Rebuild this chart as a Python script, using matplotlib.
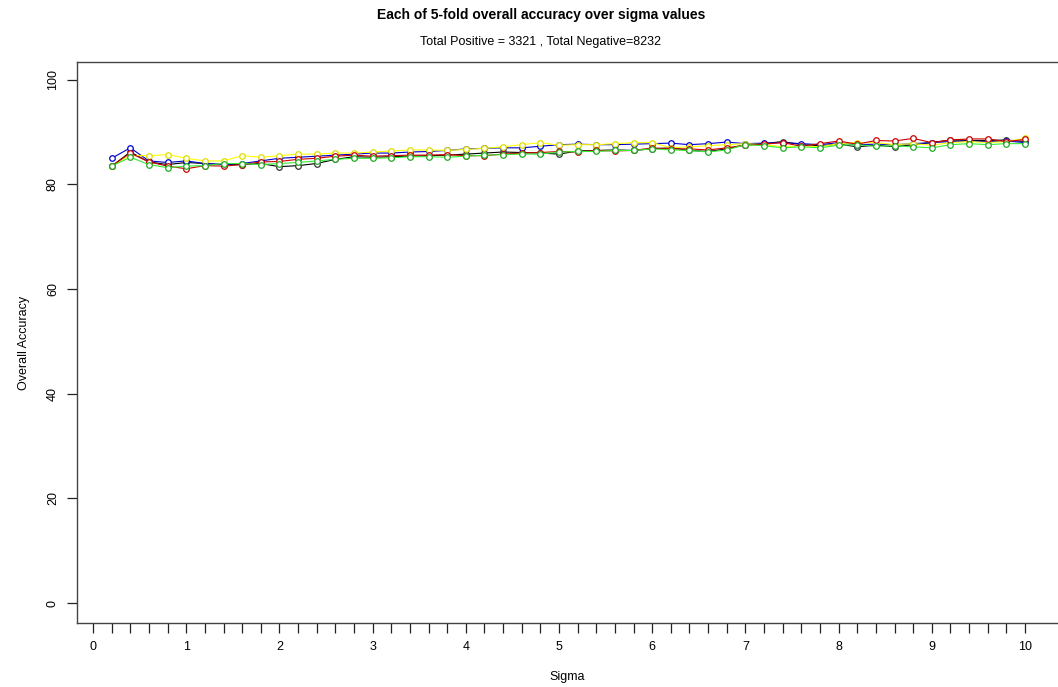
import numpy as np
import matplotlib
matplotlib.use("Agg")
import matplotlib.pyplot as plt
from matplotlib.ticker import FixedLocator, FuncFormatter

plt.rcParams['font.family'] = ['Liberation Sans', 'DejaVu Sans']

sigma = np.round(np.arange(0.2, 10.0001, 0.2), 1)

acc_black = [83.5, 86.2, 84.3, 83.8, 84.2, 84.0, 83.8, 83.8, 84.0, 83.4,
             83.6, 84.0, 84.8, 85.3, 85.2, 85.3, 85.4, 85.5, 85.6, 85.8,
             86.0, 86.2, 86.1, 86.0, 85.8, 86.4, 86.5, 86.6, 86.5, 86.8,
             87.0, 86.5, 86.3, 86.8, 87.6, 87.8, 88.2, 87.6, 87.4, 87.7,
             87.2, 87.5, 87.2, 87.6, 88.0, 88.5, 88.4, 88.4, 88.5, 88.2]
acc_blue = [85.0, 87.0, 84.5, 84.2, 84.5, 84.0, 83.8, 84.0, 84.5, 85.0,
            85.2, 85.4, 85.6, 85.8, 86.0, 86.0, 86.2, 86.3, 86.5, 86.8,
            86.9, 87.0, 87.0, 87.3, 87.6, 87.7, 87.6, 87.6, 87.7, 87.8,
            87.9, 87.6, 87.8, 88.1, 87.8, 87.9, 88.0, 87.8, 87.6, 88.0,
            87.6, 87.7, 87.6, 87.8, 88.0, 88.2, 88.3, 88.2, 88.3, 88.0]
acc_yellow = [83.5, 85.5, 85.5, 85.7, 85.0, 84.5, 84.5, 85.5, 85.2, 85.5,
              85.8, 85.8, 86.0, 86.0, 86.2, 86.4, 86.6, 86.6, 86.5, 86.7,
              86.9, 87.2, 87.6, 88.0, 87.5, 87.6, 87.6, 87.8, 88.0, 88.0,
              87.0, 87.2, 87.4, 87.6, 87.8, 87.6, 87.2, 87.4, 87.2, 87.8,
              88.0, 88.0, 87.6, 87.8, 87.5, 88.0, 88.2, 88.0, 88.2, 88.8]
acc_red = [83.5, 86.0, 84.3, 83.5, 83.0, 83.6, 83.5, 83.8, 84.3, 84.4,
           84.8, 85.0, 85.4, 85.6, 85.4, 85.5, 85.6, 85.6, 85.7, 85.5,
           85.5, 85.8, 86.0, 86.1, 86.3, 86.2, 86.5, 86.4, 86.5, 87.0,
           86.8, 86.8, 86.6, 87.0, 87.5, 87.7, 88.0, 87.3, 87.8, 88.3,
           87.7, 88.4, 88.3, 88.8, 88.0, 88.5, 88.7, 88.7, 88.2, 88.6]
acc_green = [83.5, 85.2, 83.8, 83.2, 83.5, 83.6, 84.0, 84.0, 83.8, 84.0,
             84.2, 84.5, 84.8, 85.0, 85.0, 85.1, 85.3, 85.3, 85.2, 85.4,
             85.6, 85.7, 85.8, 85.8, 86.2, 86.3, 86.3, 86.5, 86.5, 86.8,
             86.6, 86.5, 86.2, 86.6, 87.6, 87.4, 87.0, 87.2, 87.0, 87.5,
             87.6, 87.3, 87.4, 87.2, 87.0, 87.6, 87.8, 87.6, 87.8, 87.8]

series = [
    (acc_black, '#000000', '#333333'),
    (acc_blue, '#0000cc', '#0000cc'),
    (acc_yellow, '#ffff00', '#dddd00'),
    (acc_red, '#cc0000', '#cc0000'),
    (acc_green, '#33ee33', '#22aa22'),
]

W, H = 1058, 687
fig = plt.figure(figsize=(W / 100, H / 100), dpi=100)
x0, x1, ytop, ybot = 77, 1058, 62, 623
ax = fig.add_axes([x0 / W, 1 - ybot / H, (x1 - x0) / W, (ybot - ytop) / H])

for vals, lc, mc in series:
    ax.plot(sigma, vals, color=lc, lw=0.8, marker='o', ms=4.0,
            mfc='white', mec=mc, mew=0.9)

ax.set_xlim(-0.172, 10.354)
ax.set_ylim(-3.8, 103.4)

xt = np.round(np.arange(0, 10.0001, 0.2), 1)
ax.xaxis.set_major_locator(FixedLocator(xt))
ax.xaxis.set_major_formatter(FuncFormatter(
    lambda v, p: f"{int(round(v))}" if abs(v - round(v)) < 1e-6 else ""))
ax.set_yticks([0, 20, 40, 60, 80, 100])
for lbl in ax.get_yticklabels():
    lbl.set_rotation(90)
    lbl.set_va('center')

ax.tick_params(axis='both', length=7, width=0.9, color='#222222',
               labelsize=9, pad=6)
ax.spines['right'].set_visible(False)
for s in ('left', 'bottom', 'top'):
    ax.spines[s].set_linewidth(1.0)
    ax.spines[s].set_color('#444444')

ax.set_xlabel('Sigma', fontsize=9, labelpad=13)
ax.set_ylabel('Overall Accuracy', fontsize=9, labelpad=12)

fig.text(541 / W, 1 - 15 / H, 'Each of 5-fold overall accuracy over sigma values',
         ha='center', va='center', fontsize=10, fontweight='bold')
fig.text(541 / W, 1 - 42 / H, 'Total Positive = 3321 , Total Negative=8232',
         ha='center', va='center', fontsize=9)

fig.savefig('out.png', dpi=100)
